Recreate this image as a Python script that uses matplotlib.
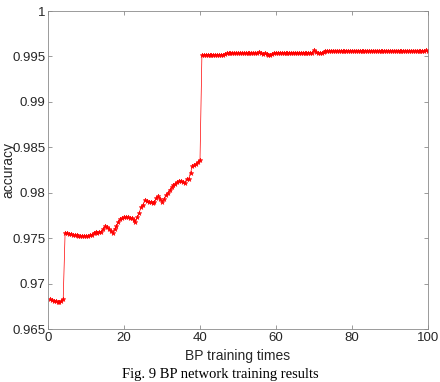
import numpy as np
import matplotlib.pyplot as plt

# training times (step 0.5) and accuracy
times = np.arange(1, 201) * 0.5

acc_low = [0.9683, 0.9682, 0.9681, 0.9681, 0.9680, 0.9680, 0.9681, 0.9683]

acc_mid = [0.9756, 0.9756, 0.9755, 0.9755, 0.9754, 0.9753, 0.9753, 0.9752,
           0.9752, 0.9752, 0.9752, 0.9752, 0.9752, 0.9753, 0.9754, 0.9756,
           0.9757, 0.9756, 0.9757, 0.9757, 0.9760, 0.9763, 0.9762, 0.9760,
           0.9758, 0.9756, 0.9760, 0.9763, 0.9768, 0.9771, 0.9772, 0.9773,
           0.9773, 0.9773, 0.9772, 0.9772, 0.9770, 0.9768, 0.9773, 0.9778,
           0.9784, 0.9787, 0.9792, 0.9791, 0.9790, 0.9790, 0.9789, 0.9790,
           0.9794, 0.9796, 0.9793, 0.9790, 0.9793, 0.9797, 0.9800, 0.9803,
           0.9806, 0.9808, 0.9810, 0.9812, 0.9813, 0.9813, 0.9812, 0.9811,
           0.9815, 0.9815, 0.9822, 0.9829, 0.9830, 0.9832, 0.9834, 0.9836]

acc_high = [0.99515, 0.99515, 0.9952, 0.9952, 0.9952, 0.9952, 0.9952, 0.9952,
            0.9952, 0.9952, 0.9952, 0.9952, 0.9953, 0.99535, 0.99535, 0.99535,
            0.99535, 0.99535, 0.99535, 0.99535, 0.99535, 0.99535, 0.99535, 0.99535,
            0.99535, 0.99535, 0.99535, 0.99535, 0.99535, 0.99535, 0.9955, 0.9954,
            0.9953, 0.9954, 0.9953, 0.9952, 0.9952, 0.9953, 0.9954, 0.9954,
            0.9954, 0.9954, 0.9954, 0.9954, 0.9954, 0.9954, 0.9954, 0.9954,
            0.9954, 0.9954, 0.9954, 0.9954, 0.9954, 0.9954, 0.9954, 0.9954,
            0.9954, 0.9954, 0.9954, 0.9957, 0.9955, 0.9954, 0.99535, 0.9954,
            0.9955, 0.9956, 0.9956, 0.9956, 0.9956, 0.9956, 0.9956, 0.9956,
            0.9956, 0.9956, 0.9956, 0.9956, 0.9956, 0.9956, 0.9956, 0.9956,
            0.9956, 0.9956, 0.9956, 0.9956, 0.9956, 0.9956, 0.9956, 0.9956,
            0.9956, 0.9956, 0.9956, 0.9956, 0.9956, 0.9956, 0.9956, 0.9956,
            0.9956, 0.9956, 0.9956, 0.9956, 0.9956, 0.9956, 0.9956, 0.9956,
            0.9956, 0.9956, 0.9956, 0.9956, 0.9956, 0.9956, 0.9956, 0.9956,
            0.9956, 0.9956, 0.9956, 0.9956, 0.9956, 0.9956, 0.9957, 0.9956]

accuracy = acc_low + acc_mid + acc_high

xticks = [0, 20, 40, 60, 80, 100]
yticks = [0.965, 0.97, 0.975, 0.98, 0.985, 0.99, 0.995, 1]
ytick_labels = ['0.965', '0.97', '0.975', '0.98', '0.985', '0.99', '0.995', '1']

plt.rcParams['font.family'] = ['Liberation Sans', 'DejaVu Sans']

fig = plt.figure(figsize=(4.4, 3.82), dpi=100)
ax = fig.add_axes([48 / 440, 1 - 329 / 382, 380 / 440, 318 / 382])

ax.plot(times[:len(accuracy)], accuracy, color='red', lw=0.5,
        marker='*', markersize=3.5, markeredgewidth=0.4)

ax.set_xlim(0, 100)
ax.set_ylim(0.965, 1)
ax.set_xticks(xticks)
ax.set_yticks(yticks)
ax.set_yticklabels(ytick_labels)

gray = '#262626'
for s in ax.spines.values():
    s.set_color('#8a8a8a')
    s.set_linewidth(0.6)
ax.tick_params(direction='in', length=3, width=0.6, colors='#8a8a8a',
               labelcolor=gray, labelsize=9.5, pad=2, top=True, right=True)
ax.set_xlabel('BP training times', fontsize=10, color=gray)
ax.xaxis.set_label_coords(0.5, -0.064)
ax.set_ylabel('accuracy', fontsize=10, color=gray)
ax.yaxis.set_label_coords(-0.086, 0.5)

fig.text(0.5, 1 - 368 / 382, 'Fig. 9 BP network training results',
         ha='center', va='top', fontsize=10.5, family='Liberation Serif')

fig.savefig('out.png', dpi=100)
